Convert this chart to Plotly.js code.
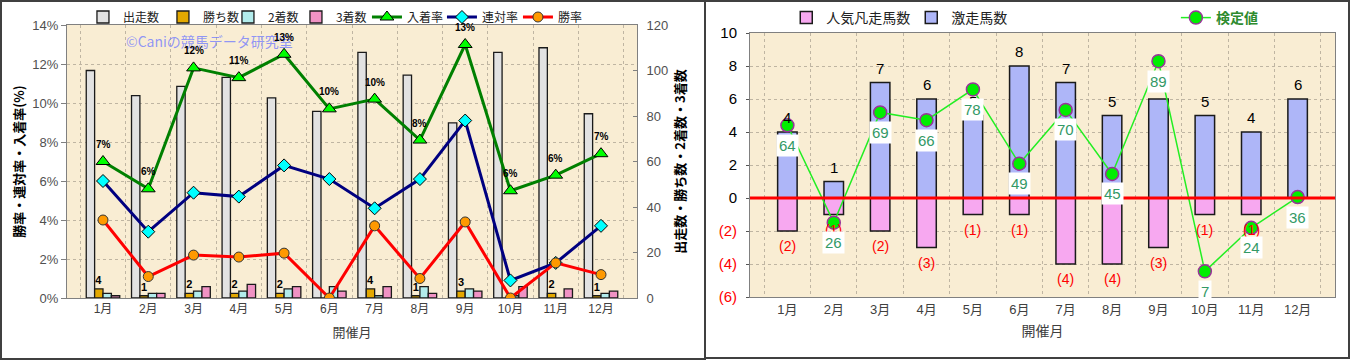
<!DOCTYPE html>
<html><head><meta charset="utf-8">
<script src="https://cdn.plot.ly/plotly-3.0.1.min.js"></script>
<style>
body{margin:0;background:#fff;width:1351px;height:360px;overflow:hidden;position:relative;}
#p1{position:absolute;left:0;top:0;width:705px;height:358px;}
#p2{position:absolute;left:705px;top:0;width:644px;height:358px;}
.bd{position:absolute;box-sizing:border-box;border:2px solid #404040;pointer-events:none;}
</style></head>
<body>
<div id="p1"></div><div id="p2"></div>
<div class="bd" style="left:0;top:0;width:706px;height:360px;"></div>
<div class="bd" style="left:704px;top:0;width:646px;height:359px;"></div>
<script>
// ---------- data ----------
const months = ['1月','2月','3月','4月','5月','6月','7月','8月','9月','10月','11月','12月'];
// left chart
const starters = [100, 89, 93, 97, 88, 82, 108, 98, 77, 108, 110, 81];
const wins     = [4, 1, 2, 2, 2, 0, 4, 1, 3, 0, 2, 1];
const seconds  = [2, 2, 3, 3, 4, 5, 1, 5, 4, 1, 0, 2];
const thirds   = [1, 2, 5, 6, 5, 3, 5, 2, 3, 5, 4, 3];
const placeRate    = [7.0, 5.6, 11.8, 11.3, 12.5, 9.7, 10.2, 8.1, 13.0, 5.5, 6.3, 7.4];
const quinellaRate = [6.0, 3.4, 5.4, 5.2, 6.8, 6.1, 4.6, 6.1, 9.1, 0.9, 1.8, 3.7];
const winRate      = [4.0, 1.1, 2.2, 2.1, 2.3, 0.0, 3.7, 1.0, 3.9, 0.0, 1.8, 1.2];
// right chart
const gekisou = [4, 1, 7, 6, 5, 8, 7, 5, 6, 5, 4, 6];
const bonsou  = [-2, -1, -2, -3, -1, -1, -4, -4, -3, -1, -1, 0];
const kentei  = [64, 26, 69, 66, 78, 49, 70, 45, 89, 7, 24, 36];
const rightTicks = [-6, -4, -2, 0, 2, 4, 6, 8, 10];

const FONT = '"Liberation Sans", "Noto Sans CJK JP", sans-serif';
const JFONT = '"Noto Sans CJK JP", sans-serif';
const PLOTBG = '#F9EDD3';
const GRID = '#bfb5a2';

// ---------- left chart ----------
const barLine = {color:'#1a1a1a', width:1.3};
const leftTraces = [
  {type:'bar', name:'出走数', x:months, y:starters, marker:{color:'#E2E2E2', line:barLine}, legendwidth:35},
  {type:'bar', name:'勝ち数', x:months, y:wins, marker:{color:'#E3A800', line:barLine},
   text:wins.map(v=>v>0?String(v):''), textposition:'outside', constraintext:'none', cliponaxis:false,
   textfont:{size:11, color:'#000', family:FONT, weight:'bold'}, legendwidth:20},
  {type:'bar', name:'2着数', x:months, y:seconds, marker:{color:'#B2ECEC', line:barLine}, legendwidth:23},
  {type:'bar', name:'3着数', x:months, y:thirds, marker:{color:'#F092C4', line:barLine}, legendwidth:26},
  {type:'scatter', mode:'lines+markers', name:'入着率', x:months, y:placeRate, yaxis:'y2',
   line:{color:'#008000', width:3}, marker:{symbol:'triangle-up', size:12, color:'#00FF00', line:{color:'#000', width:1}}, legendwidth:30},
  {type:'scatter', mode:'lines+markers', name:'連対率', x:months, y:quinellaRate, yaxis:'y2',
   line:{color:'#000080', width:3}, marker:{symbol:'diamond', size:10, color:'#00FFFF', line:{color:'#000', width:1}}, legendwidth:31},
  {type:'scatter', mode:'lines+markers', name:'勝率', x:months, y:winRate, yaxis:'y2',
   line:{color:'#FF0000', width:3}, marker:{symbol:'circle', size:10, color:'#FF9900', line:{color:'#333', width:1}}}
];
const leftAnns = [{xref:'paper', yref:'paper', x:0.1, y:0.94, xanchor:'left', yanchor:'middle', showarrow:false,
    text:'©Caniの競馬データ研究室', font:{size:14, color:'rgba(110,120,255,0.75)', family:JFONT}}];
months.forEach((m,i)=>{
  leftAnns.push({x:m, y:placeRate[i], xref:'x', yref:'y2', text:placeRate[i].toFixed(0)+'%', showarrow:false,
    yanchor:'middle', yshift:17, font:{size:10, color:'#000', family:FONT, weight:'bold'}});
});
const leftLayout = {
  width:705, height:358, margin:{l:67, r:68, t:25, b:60, autoexpand:false},
  paper_bgcolor:'rgba(0,0,0,0)', plot_bgcolor:PLOTBG,
  font:{family:FONT, size:12, color:'#404040'},
  barmode:'group', bargap:0.26, bargroupgap:0,
  showlegend:true,
  xaxis:{type:'category', tickson:'boundaries', showgrid:true, gridcolor:GRID, griddash:'dot', gridwidth:1,
    showline:true, linecolor:'#808080', mirror:true, ticks:'', tickfont:{size:12, color:'#404040'},
    title:{text:'開催月', font:{size:13, color:'#404040', family:JFONT}, standoff:12}},
  yaxis:{side:'right', range:[0,120], dtick:20, showgrid:false, zeroline:false, ticks:'inside', ticklen:4,
    tickcolor:'#808080', showline:true, linecolor:'#808080', tickfont:{size:13, color:'#505050'},
    ticklabelstandoff:6,
    title:{text:'出走数・勝ち数・2着数・3着数', font:{size:13, color:'#000', family:JFONT, weight:'bold'}, standoff:8}},
  yaxis2:{overlaying:'y', side:'left', range:[0,14], dtick:2, ticksuffix:'%', showgrid:true, gridcolor:GRID,
    griddash:'dot', zeroline:false, ticks:'outside', ticklen:5, tickcolor:'#808080', showline:true, linecolor:'#808080',
    tickfont:{size:13, color:'#505050'},
    title:{text:'勝率・連対率・入着率(%)', font:{size:13, color:'#000', family:JFONT, weight:'bold'}, standoff:4}},
  legend:{orientation:'h', x:0.028, xanchor:'left', yref:'container', y:1-17/358, yanchor:'middle',
    font:{size:12, color:'#222', family:JFONT}, bgcolor:'rgba(0,0,0,0)', traceorder:'normal'},
  annotations:leftAnns
};
Plotly.newPlot('p1', leftTraces, leftLayout, {displayModeBar:false, staticPlot:true});

// ---------- right chart ----------
const rightTraces = [
  {type:'bar', name:'人気凡走馬数', x:months, y:bonsou, marker:{color:'#F7A8F0', line:{color:'#1a1a1a', width:1.5}}, legendwidth:80},
  {type:'bar', name:'激走馬数', x:months, y:gekisou, marker:{color:'#AEB6F8', line:{color:'#1a1a1a', width:1.5}}},
  {type:'scatter', mode:'lines+markers', name:'検定値', x:months, y:kentei, yaxis:'y2', legend:'legend2',
   line:{color:'#22EE22', width:1.5}, marker:{symbol:'circle', size:13, color:'#00EE00', line:{color:'#993399', width:1.5}}}
];
const anns = [];
months.forEach((m,i)=>{
  anns.push({x:m, y:gekisou[i], xref:'x', yref:'y', text:String(gekisou[i]), showarrow:false, yanchor:'bottom', yshift:4,
    font:{size:15, color:'#000', family:FONT}});
  if (bonsou[i] < 0) anns.push({x:m, y:bonsou[i], xref:'x', yref:'y', text:'('+(-bonsou[i])+')', showarrow:false,
    yanchor:'top', yshift:-5, font:{size:14, color:'#FF0000', family:FONT}});
});
months.forEach((m,i)=>{
  anns.push({x:m, y:kentei[i], xref:'x', yref:'y2', text:String(kentei[i]), showarrow:false, yanchor:'middle', yshift:-20,
    bgcolor:'#FFFFFF', borderpad:2, font:{size:15, color:'#339966', family:FONT}});
});
const rightLayout = {
  width:644, height:358, margin:{l:45, r:14, t:33, b:61, autoexpand:false},
  paper_bgcolor:'rgba(0,0,0,0)', plot_bgcolor:PLOTBG,
  font:{family:FONT, size:13, color:'#404040'},
  barmode:'relative', bargap:0.58,
  xaxis:{type:'category', tickson:'boundaries', showgrid:true, gridcolor:GRID, griddash:'dot',
    showline:true, linecolor:'#808080', mirror:true, ticks:'', tickfont:{size:13, color:'#404040'},
    title:{text:'開催月', font:{size:14, color:'#404040', family:JFONT}, standoff:10}},
  yaxis:{range:[-6,10], tickvals:rightTicks,
    ticktext:rightTicks.map(v=>v<0?'<span style="color:#FF0000">('+(-v)+')</span>':String(v)),
    showgrid:true, gridcolor:GRID, griddash:'dot', zeroline:false, ticks:'outside', ticklen:3, tickcolor:'#555',
    showline:true, linecolor:'#808080', mirror:true, tickfont:{size:15, color:'#000'}, ticklabelstandoff:6},
  yaxis2:{overlaying:'y', range:[-3,100], visible:false},
  legend:{orientation:'h', x:0.062, xanchor:'left', yref:'container', y:1-18/358, yanchor:'middle',
    font:{size:14, color:'#222', family:JFONT}, bgcolor:'rgba(0,0,0,0)'},
  legend2:{orientation:'h', x:0.728, xanchor:'left', yref:'container', y:1-18/358, yanchor:'middle',
    font:{size:14, color:'#2E8B2E', family:JFONT, weight:'bold'}, bgcolor:'rgba(0,0,0,0)'},
  shapes:[{type:'line', xref:'paper', x0:0, x1:1, yref:'y', y0:0, y1:0, line:{color:'#FF0000', width:3}, layer:'above'}],
  annotations:anns
};
Plotly.newPlot('p2', rightTraces, rightLayout, {displayModeBar:false, staticPlot:true});
</script>
</body></html>
